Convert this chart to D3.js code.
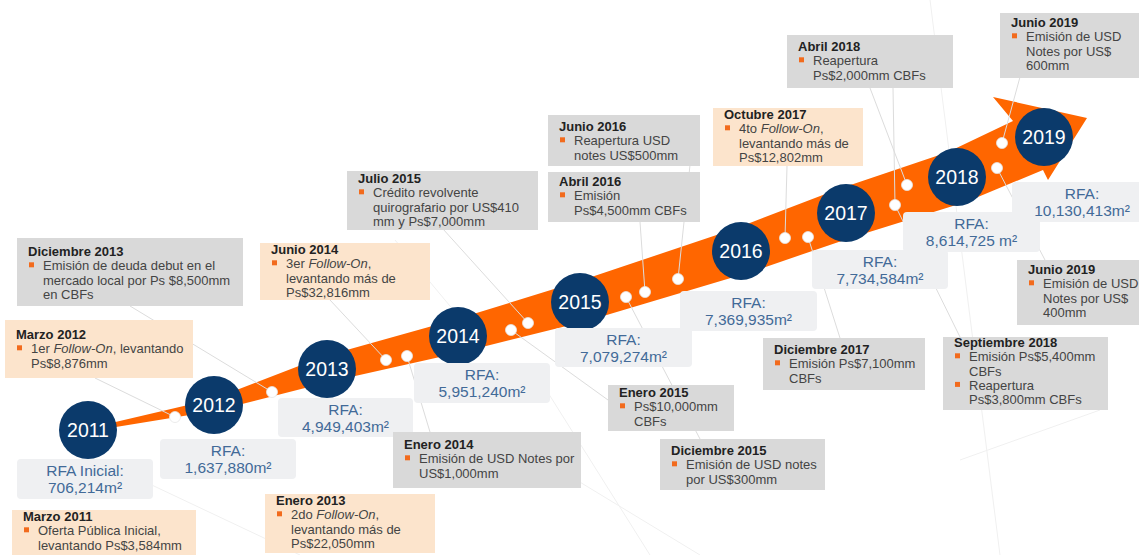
<!DOCTYPE html>
<html>
<head>
<meta charset="utf-8">
<script src="https://cdn.jsdelivr.net/npm/d3@7"></script>
<style>
  body { margin: 0; background: #fff; }
  svg { display: block; font-family: "Liberation Sans", Arial, sans-serif; }
</style>
</head>
<body>
<div class="timeline"></div>
<script>
var width = 1139,
    height = 555;

// ---- data ----
var years = [2011, 2012, 2013, 2014, 2015, 2016, 2017, 2018, 2019];
var rfaLabels = ["RFA Inicial:", "RFA:", "RFA:", "RFA:", "RFA:", "RFA:", "RFA:", "RFA:", "RFA:"];
var rfaValues = [706214, 1637880, 4949403, 5951240, 7079274, 7369935, 7734584, 8614725, 10130413];

// kind: "capital" = follow-on / equity (peach), "deuda" = debt (gray)
var eventDates = ["Marzo 2011", "Marzo 2012", "Diciembre 2013", "Enero 2013", "Junio 2014",
  "Enero 2014", "Julio 2015", "Enero 2015", "Diciembre 2015", "Junio 2016", "Abril 2016",
  "Octubre 2017", "Diciembre 2017", "Abril 2018", "Septiembre 2018", "Junio 2019", "Junio 2019"];
var eventKinds = ["capital", "capital", "deuda", "capital", "capital",
  "deuda", "deuda", "deuda", "deuda", "deuda", "deuda",
  "capital", "deuda", "deuda", "deuda", "deuda", "deuda"];
// *text* = italic
var eventBullets = [
  [["Oferta Pública Inicial,", "levantando Ps$3,584mm"]],
  [["1er *Follow-On*, levantando", "Ps$8,876mm"]],
  [["Emisión de deuda debut en el", "mercado local por Ps $8,500mm", "en CBFs"]],
  [["2do *Follow-On*,", "levantando más de", "Ps$22,050mm"]],
  [["3er *Follow-On*,", "levantando más de", "Ps$32,816mm"]],
  [["Emisión de USD Notes por", "US$1,000mm"]],
  [["Crédito revolvente", "quirografario por US$410", "mm y Ps$7,000mm"]],
  [["Ps$10,000mm", "CBFs"]],
  [["Emisión de USD notes", "por US$300mm"]],
  [["Reapertura USD", "notes US$500mm"]],
  [["Emisión", "Ps$4,500mm CBFs"]],
  [["4to *Follow-On*,", "levantando más de", "Ps$12,802mm"]],
  [["Emisión Ps$7,100mm", "CBFs"]],
  [["Reapertura", "Ps$2,000mm CBFs"]],
  [["Emisión Ps$5,400mm", "CBFs"], ["Reapertura", "Ps$3,800mm CBFs"]],
  [["Emisión de USD", "Notes por US$", "400mm"]],
  [["Emisión de USD", "Notes por US$", "600mm"]]
];

// ---- layout (pixels) ----
var yearCenters = [[88, 430], [214, 405], [327, 369], [458, 336], [580, 302],
  [741, 251], [846, 213], [957, 177], [1044, 137]];
var bandWidths = [3, 12, 26, 33, 40, 46, 50, 53];
var headOffsets = [[-31, -16], [-51, -40], [43, -19], [4, 43], [-1, 33]];
var rfaBoxes = [[17, 459, 136, 40], [160, 439, 136, 40], [278, 398, 135, 39], [414, 363, 136, 40],
  [555, 328, 137, 39], [680, 291, 137, 40], [812, 250, 136, 39], [903, 212, 137, 40], [1012, 182, 140, 40]];
// x, y, w, h, first baseline offset
var eventBoxes = [[12, 510, 184, 50, 11], [5, 320, 188, 58, 19], [17, 238, 226, 68, 18],
  [265, 494, 170, 59, 11], [260, 243, 170, 57, 11], [393, 432, 188, 56, 17],
  [347, 171, 191, 59, 12], [608, 385, 126, 46, 12], [660, 439, 165, 51, 16],
  [548, 115, 152, 51, 16], [548, 172, 152, 50, 14], [713, 108, 150, 58, 11],
  [763, 338, 162, 52, 16], [787, 35, 166, 53, 16], [943, 337, 165, 73, 10],
  [1017, 260, 130, 65, 14], [1000, 13, 145, 65, 14]];
var dots = [[175, 417], [272, 392], [386, 360], [407, 356], [511, 330], [528, 323],
  [626, 297], [645, 292], [678, 279], [785, 238], [808, 237], [895, 205],
  [907, 185], [997, 168], [1002, 143]];
// [box anchor, dot]
var connectors = [[[95, 378], [175, 417]], [[130, 306], [272, 392]], [[330, 300], [386, 360]],
  [[430, 432], [407, 356]], [[443, 229], [528, 323]], [[608, 400], [511, 330]],
  [[700, 439], [626, 297]], [[640, 222], [645, 292]], [[690, 165], [678, 279]],
  [[787, 166], [785, 238]], [[840, 338], [808, 237]], [[870, 88], [907, 185]],
  [[893, 88], [895, 205]], [[960, 337], [895, 205]], [[1045, 260], [997, 168]], [[1020, 77], [1002, 143]]];
var bgLines = [[[300, 555], [120, 470]], [[395, 240], [470, 330]], [[700, 555], [560, 470]],
  [[930, 0], [1000, 555]], [[540, 380], [650, 555]], [[1100, 410], [960, 460]]];

var colors = { capital: "#fce4cc", deuda: "#d9d9d9" };
var navy = "#0b3a6b", orange = "#ff6600", rfaBlue = "#426a98";

var svg = d3.select(".timeline").append("svg")
    .attr("width", width)
    .attr("height", height);

var line = d3.line();

// faint background lines
svg.append("g").selectAll("path")
    .data(bgLines)
    .enter().append("path")
    .attr("d", line)
    .attr("stroke", "#f0f0f0")
    .attr("stroke-width", 1)
    .attr("fill", "none");

// arrow outline from the year centers
var topEdge = [], bottomEdge = [];
for (var i = 0; i < bandWidths.length; i++) {
  var a = yearCenters[Math.max(0, i - 1)], b = yearCenters[i + 1];
  var dx = b[0] - a[0], dy = b[1] - a[1], len = Math.sqrt(dx * dx + dy * dy);
  var nx = dy / len, ny = -dx / len;
  var c = yearCenters[i], h = bandWidths[i] / 2;
  topEdge.push([c[0] + nx * h, c[1] + ny * h]);
  bottomEdge.push([c[0] - nx * h, c[1] - ny * h]);
}
var last = yearCenters[yearCenters.length - 1];
var head = headOffsets.map(function(o) { return [last[0] + o[0], last[1] + o[1]]; });
var outline = topEdge.concat(head).concat(bottomEdge.reverse());

svg.append("path")
    .attr("d", line(outline) + "Z")
    .attr("fill", orange);

// connector lines
svg.append("g").selectAll("path")
    .data(connectors)
    .enter().append("path")
    .attr("d", line)
    .attr("stroke", "#dcdcdc")
    .attr("stroke-width", 1)
    .attr("fill", "none");

// white dots on the arrow
svg.append("g").selectAll("circle")
    .data(dots)
    .enter().append("circle")
    .attr("cx", function(d) { return d[0]; })
    .attr("cy", function(d) { return d[1]; })
    .attr("r", 5.5)
    .attr("fill", "#fff")
    .attr("stroke", "#e6e6e6")
    .attr("stroke-width", 0.8);

// year circles
var yearG = svg.append("g").selectAll("g")
    .data(years)
    .enter().append("g")
    .attr("transform", function(d, i) { return "translate(" + yearCenters[i] + ")"; });

yearG.append("circle")
    .attr("r", 29)
    .attr("fill", navy);

yearG.append("text")
    .attr("text-anchor", "middle")
    .attr("dy", 7)
    .attr("fill", "#fff")
    .style("font-size", "19.5px")
    .text(function(d) { return d; });

// RFA boxes
var fmt = d3.format(",");
var rfaG = svg.append("g").selectAll("g")
    .data(rfaValues)
    .enter().append("g")
    .attr("transform", function(d, i) { return "translate(" + rfaBoxes[i][0] + "," + rfaBoxes[i][1] + ")"; });

rfaG.append("rect")
    .attr("width", function(d, i) { return rfaBoxes[i][2]; })
    .attr("height", function(d, i) { return rfaBoxes[i][3]; })
    .attr("rx", 4)
    .attr("fill", "#eff0f2");

rfaG.append("text")
    .attr("x", function(d, i) { return rfaBoxes[i][2] / 2; })
    .attr("y", 17)
    .attr("text-anchor", "middle")
    .attr("fill", rfaBlue)
    .style("font-size", "15.5px")
    .text(function(d, i) { return rfaLabels[i]; });

rfaG.append("text")
    .attr("x", function(d, i) { return rfaBoxes[i][2] / 2; })
    .attr("y", 34)
    .attr("text-anchor", "middle")
    .attr("fill", rfaBlue)
    .style("font-size", "15.5px")
    .text(function(d, i) { return fmt(d) + (i === 7 ? " m²" : "m²"); });

// event boxes
var evG = svg.append("g").selectAll("g")
    .data(eventDates)
    .enter().append("g")
    .attr("transform", function(d, i) { return "translate(" + eventBoxes[i][0] + "," + eventBoxes[i][1] + ")"; });

evG.append("rect")
    .attr("width", function(d, i) { return eventBoxes[i][2]; })
    .attr("height", function(d, i) { return eventBoxes[i][3]; })
    .attr("fill", function(d, i) { return colors[eventKinds[i]]; });

evG.each(function(d, i) {
  var g = d3.select(this);
  var y = eventBoxes[i][4];
  var lh = 14.3;
  g.append("text")
      .attr("x", 11)
      .attr("y", y)
      .attr("fill", "#222")
      .style("font-size", "13px")
      .style("font-weight", "bold")
      .text(d);
  eventBullets[i].forEach(function(bullet) {
    y += lh;
    g.append("rect")
        .attr("x", 12)
        .attr("y", y - 8)
        .attr("width", 5)
        .attr("height", 5)
        .attr("fill", "#f26b1d");
    bullet.forEach(function(txt, k) {
      var t = g.append("text")
          .attr("x", 26)
          .attr("y", y + k * lh)
          .attr("fill", "#444")
          .style("font-size", "13px");
      txt.split("*").forEach(function(part, p) {
        if (part === "") return;
        t.append("tspan")
            .style("font-style", p % 2 ? "italic" : "normal")
            .text(part);
      });
    });
    y += (bullet.length - 1) * lh;
  });
});
</script>
</body>
</html>
